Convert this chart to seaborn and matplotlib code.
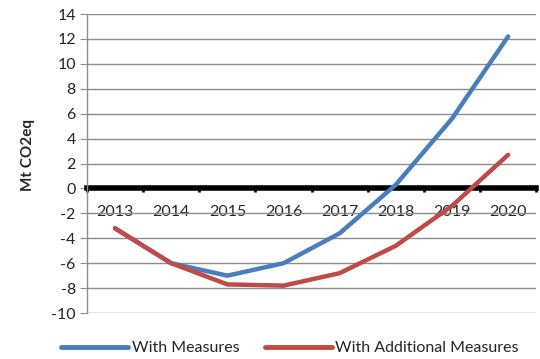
import pandas as pd
import seaborn as sns
import numpy as np
import matplotlib.pyplot as plt

years = [2013, 2014, 2015, 2016, 2017, 2018, 2019, 2020]
with_measures = [-3.2, -6.0, -7.0, -6.0, -3.6, 0.3, 5.6, 12.2]
with_additional = [-3.2, -6.0, -7.7, -7.8, -6.8, -4.6, -1.4, 2.7]
series_names = ['With Measures', 'With Additional Measures']
series_colors = ['#4A7EBB', '#BE4B48']
y_ticks = list(range(-10, 16, 2))

data = pd.DataFrame({
    'year': years * 2,
    'value': with_measures + with_additional,
    'series': [series_names[0]] * len(years) + [series_names[1]] * len(years),
})

sns.set_style('white')
plt.rcParams['font.family'] = ['Lato', 'DejaVu Sans']
plt.rcParams['axes.unicode_minus'] = False

fig = plt.figure(figsize=(5.4, 3.59), dpi=100)
ax = fig.add_axes([0.161, 0.128, 0.832, 0.833])

sns.lineplot(data=data, x='year', y='value', hue='series', hue_order=series_names,
             palette=series_colors, linewidth=3.2, ax=ax, legend=False,
             solid_capstyle='round', zorder=3)

# y axis + grid
ax.set_ylim(-10, 14)
ax.set_yticks(y_ticks)
ax.yaxis.grid(True, color='#8c8c8c', linewidth=1.0)
ax.tick_params(axis='y', which='major', length=5, color='#8c8c8c', labelsize=11.5, pad=3, left=True)
ax.set_ylabel('Mt CO2eq', fontsize=11, fontweight='bold')
ax.yaxis.set_label_coords(-0.115, 0.53)

# x axis drawn at zero, labels between boundary ticks
ax.set_xlim(years[0] - 0.5, years[-1] + 0.5)
ax.set_xticks([y - 0.5 for y in years] + [years[-1] + 0.5])
ax.set_xticklabels([])
ax.set_xticks(years, minor=True)
ax.set_xticklabels([str(y) for y in years], minor=True)
ax.tick_params(axis='x', which='major', length=3, width=2, color='black', bottom=True)
ax.tick_params(axis='x', which='minor', length=0, labelsize=11.5, pad=12)
ax.set_xlabel('')

for s in ['top', 'right']:
    ax.spines[s].set_visible(False)
ax.spines['left'].set_color('#8c8c8c')
ax.spines['left'].set_linewidth(1.0)
ax.spines['bottom'].set_position(('data', 0))
ax.spines['bottom'].set_color('black')
ax.spines['bottom'].set_linewidth(4)
ax.spines['bottom'].set_zorder(2)

handles = [plt.Line2D([], [], color=c, linewidth=3.5, solid_capstyle='round') for c in series_colors]
fig.legend(handles, series_names, loc='center', bbox_to_anchor=(0.537, 0.03), ncol=2,
           frameon=False, fontsize=11.5, handlelength=4.2, handletextpad=0.2, columnspacing=1.6)

fig.savefig('out.png', dpi=100)
